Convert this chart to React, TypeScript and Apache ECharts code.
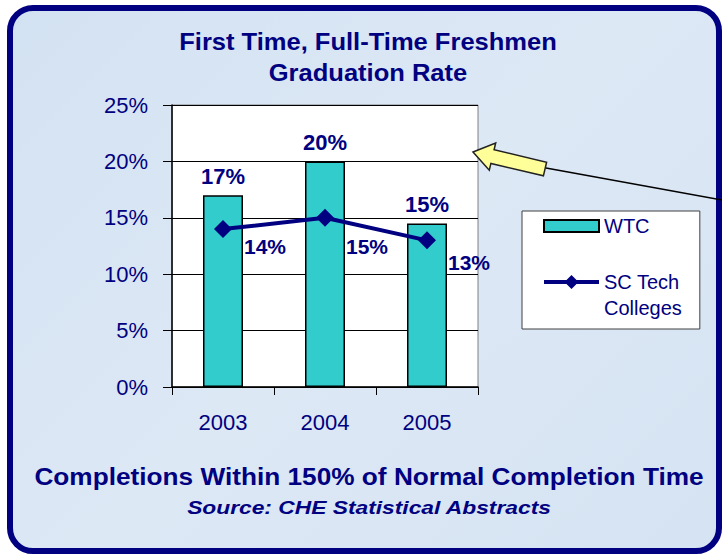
import React, { useEffect, useRef } from "react";
import * as echarts from "echarts";

const categories = ["2003", "2004", "2005"];
const wtcValues = [17, 20, 14.5];
const scTechValues = [14, 15, 13];
const lineLabelOffsets = [[0, 17], [0, 29], [0, 22]];
const yMin = 0;
const yMax = 25;
const yInterval = 5;
const seriesNames = ["WTC", "SC Tech Colleges"];

const NAVY = "#000080";
const FONT = "'Liberation Sans', Arial, sans-serif";
const LINE_ICON =
  "path://M0 5 L22.5 5 L27.5 0 L32.5 5 L55 5 L55 9 L32.5 9 L27.5 14 L22.5 9 L0 9 Z";
const BAR_ICON = "path://M0 0 L55 0 L55 12 L0 12 Z";

export default function App() {
  const ref = useRef<HTMLDivElement>(null);

  useEffect(() => {
    document.body.style.margin = "0";
    const chart = echarts.init(ref.current!, undefined, { renderer: "svg" });
    chart.setOption({
      animation: false,
      backgroundColor: "transparent",
      textStyle: { fontFamily: FONT },
      grid: {
        left: 172,
        right: 244,
        top: 105,
        bottom: 171,
        show: true,
        backgroundColor: "#ffffff",
        borderColor: "#808080",
        borderWidth: 1,
      },
      legend: {
        orient: "vertical",
        left: 522,
        top: 211,
        padding: [2, 18, 8, 21],
        itemGap: 4,
        itemWidth: 55,
        itemHeight: 14,
        backgroundColor: "#ffffff",
        borderColor: "#404040",
        borderWidth: 1,
        data: [
          { name: seriesNames[0], icon: BAR_ICON },
          { name: seriesNames[1], icon: LINE_ICON, itemStyle: { color: NAVY, borderWidth: 0 } },
        ],
        formatter: (name: string) =>
          name === "SC Tech Colleges" ? "\u00a0\nSC Tech\nColleges" : name,
        textStyle: { fontSize: 20, color: NAVY, lineHeight: 26, fontFamily: FONT },
      },
      xAxis: {
        type: "category",
        data: categories,
        axisLine: { lineStyle: { color: "#000", width: 1.5 } },
        axisTick: { show: true, length: 8, lineStyle: { color: "#000" } },
        axisLabel: { fontSize: 22, color: NAVY, margin: 24, fontFamily: FONT },
      },
      yAxis: {
        type: "value",
        min: yMin,
        max: yMax,
        interval: yInterval,
        axisLine: { show: true, lineStyle: { color: "#000", width: 1.5 } },
        axisTick: { show: true, length: 9, lineStyle: { color: "#000" } },
        axisLabel: {
          fontSize: 22,
          color: NAVY,
          margin: 24,
          fontFamily: FONT,
          formatter: "{value}%",
        },
        splitLine: { lineStyle: { color: "#000", width: 1 } },
      },
      series: [
        {
          name: seriesNames[0],
          type: "bar",
          data: wtcValues,
          barWidth: 40,
          itemStyle: { color: "#33CCCC", borderColor: "#000", borderWidth: 1.5 },
          label: {
            show: true,
            position: "top",
            distance: 8,
            fontSize: 22,
            fontWeight: "bold",
            color: NAVY,
            fontFamily: FONT,
            formatter: (p: any) => Math.round(p.value) + "%",
          },
        },
        {
          name: seriesNames[1],
          type: "line",
          data: scTechValues.map((v, i) => ({
            value: v,
            label: { offset: lineLabelOffsets[i] },
          })),
          symbol: "diamond",
          symbolSize: 18,
          lineStyle: { color: NAVY, width: 4 },
          itemStyle: { color: NAVY },
          label: {
            show: true,
            position: "right",
            distance: 12,
            fontSize: 21,
            fontWeight: "bold",
            color: NAVY,
            fontFamily: FONT,
            formatter: (p: any) => Math.round(p.value) + "%",
          },
        },
      ],
      graphic: [
        {
          type: "text",
          x: 368,
          y: 42,
          scaleX: 1.11,
          style: {
            text: "First Time, Full-Time Freshmen",
            fill: NAVY,
            font: `bold 23px ${FONT}`,
            textAlign: "center",
            textVerticalAlign: "middle",
          },
        },
        {
          type: "text",
          x: 368,
          y: 73,
          scaleX: 1.11,
          style: {
            text: "Graduation Rate",
            fill: NAVY,
            font: `bold 23px ${FONT}`,
            textAlign: "center",
            textVerticalAlign: "middle",
          },
        },
        {
          type: "text",
          x: 369,
          y: 477,
          scaleX: 1.14,
          style: {
            text: "Completions Within 150% of Normal Completion Time",
            fill: NAVY,
            font: `bold 23px ${FONT}`,
            textAlign: "center",
            textVerticalAlign: "middle",
          },
        },
        {
          type: "text",
          x: 369,
          y: 507,
          scaleX: 1.2,
          style: {
            text: "Source: CHE Statistical Abstracts",
            fill: NAVY,
            font: `italic bold 19px ${FONT}`,
            textAlign: "center",
            textVerticalAlign: "middle",
          },
        },
        {
          type: "line",
          shape: { x1: 546, y1: 168, x2: 722, y2: 200 },
          style: { stroke: "#000", lineWidth: 1.5 },
        },
        {
          type: "polygon",
          shape: {
            points: [
              [473, 152],
              [495.7, 143.0],
              [494.1, 149.8],
              [546.6, 162.2],
              [543.4, 175.8],
              [490.9, 163.4],
              [489.3, 170.2],
            ],
          },
          style: { fill: "#ffff99", stroke: "#222", lineWidth: 1.5 },
        },
      ],
    });
    return () => chart.dispose();
  }, []);

  return (
    <div style={{ position: "fixed", left: 0, top: 0, width: 722, height: 558, background: "#ffffff" }}>
      <div
        style={{
          position: "absolute",
          left: 7,
          top: 5,
          width: 715,
          height: 549,
          boxSizing: "border-box",
          border: "6px solid #000080",
          borderRadius: 26,
          background: "linear-gradient(135deg, #d3e2f2 0%, #dde8f5 50%, #d5e3f2 100%)",
        }}
      />
      <div ref={ref} style={{ position: "absolute", left: 0, top: 0, width: 722, height: 558 }} />
    </div>
  );
}
